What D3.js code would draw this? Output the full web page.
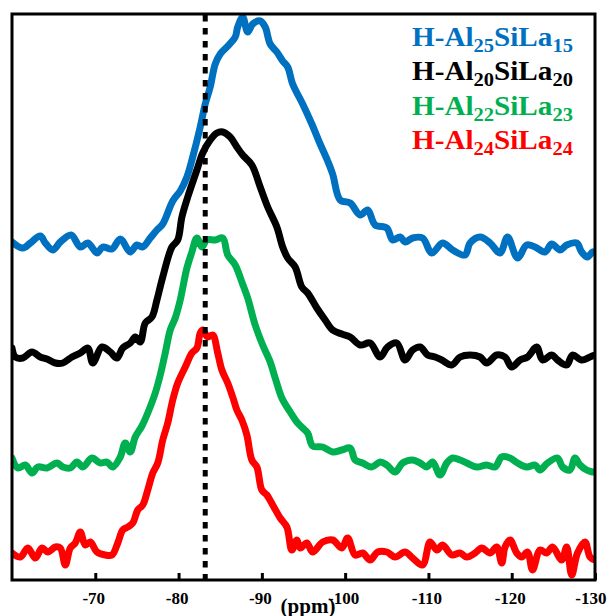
<!DOCTYPE html>
<html><head><meta charset="utf-8">
<script src="https://cdn.jsdelivr.net/npm/d3@7"></script>
<style>html,body{margin:0;padding:0;background:#fff;}svg{display:block;}</style>
</head><body>
<script>
// chemical shift (ppm), intensity (a.u., stacked)
const blue = [[-60.0,338],[-61.3,332],[-62.2,337],[-63.4,344],[-64.0,337],[-64.9,330],[-65.8,338],[-67.1,345],[-68.2,333],[-69.1,337],[-70.2,327],[-70.9,333],[-72.0,331],[-73.0,341],[-74.2,328],[-75.0,335],[-75.7,333],[-76.6,342],[-77.4,350],[-78.1,356],[-79.3,379],[-80.2,389],[-81.0,403],[-81.7,423],[-82.6,453],[-83.2,476],[-83.8,493],[-84.4,516],[-85.0,526],[-85.8,533],[-86.8,543],[-87.1,553],[-87.7,563],[-88.3,548],[-88.9,556],[-89.8,559],[-90.4,553],[-91.0,536],[-91.8,528],[-92.5,519],[-93.1,513],[-93.7,496],[-94.9,476],[-96.0,456],[-97.0,436],[-97.9,419],[-98.5,406],[-99.4,380],[-100.6,377],[-101.8,365],[-102.7,370],[-103.6,355],[-105.0,352],[-105.7,340],[-106.6,343],[-107.2,338],[-108.1,342],[-109.3,342],[-110.4,327],[-111.7,337],[-112.9,330],[-114.4,325],[-115.0,337],[-116.2,343],[-117.4,337],[-118.6,327],[-119.5,343],[-120.7,322],[-121.8,335],[-122.8,333],[-124.0,328],[-124.8,336],[-125.8,330],[-126.6,335],[-127.8,337],[-128.4,328],[-129.1,323],[-129.7,328],[-130.0,328]];
const black = [[-60.0,232],[-60.4,223],[-61.3,222],[-62.4,228],[-63.4,223],[-64.2,221],[-65.2,217],[-66.1,217],[-67.2,223],[-68.2,227],[-69.1,232],[-69.7,217],[-70.8,233],[-71.8,228],[-72.6,222],[-73.3,232],[-74.2,237],[-74.8,243],[-75.4,238],[-76.0,257],[-76.8,263],[-77.4,280],[-78.1,303],[-79.2,333],[-79.9,340],[-80.4,363],[-81.1,383],[-82.2,410],[-82.9,427],[-83.8,440],[-84.6,447],[-85.3,448],[-86.2,443],[-87.0,433],[-87.7,425],[-88.8,415],[-89.8,393],[-90.7,373],[-91.8,353],[-92.5,333],[-93.1,322],[-94.0,313],[-94.8,293],[-95.5,287],[-96.6,272],[-97.6,260],[-98.5,250],[-99.6,246],[-100.6,243],[-101.8,235],[-103.0,237],[-104.2,223],[-105.1,233],[-106.2,237],[-107.2,220],[-108.1,230],[-109.0,233],[-109.9,225],[-110.8,223],[-111.6,220],[-112.8,215],[-113.8,223],[-115.0,225],[-116.2,223],[-117.0,217],[-118.2,225],[-119.2,223],[-120.0,213],[-121.0,220],[-121.9,223],[-123.0,233],[-123.7,220],[-124.8,225],[-125.5,220],[-126.6,215],[-127.3,225],[-128.4,220],[-129.4,223],[-130.0,225]];
const green = [[-60.0,122],[-60.7,112],[-61.6,115],[-62.4,107],[-63.1,113],[-64.2,112],[-65.4,117],[-66.1,113],[-67.0,112],[-67.8,118],[-68.5,113],[-69.6,122],[-70.6,117],[-71.4,118],[-72.1,113],[-73.0,123],[-73.6,137],[-74.2,128],[-74.8,143],[-75.6,154],[-76.3,167],[-77.2,187],[-77.8,205],[-78.4,227],[-79.0,250],[-79.6,262],[-80.2,280],[-81.0,312],[-81.6,328],[-82.2,342],[-82.8,333],[-83.4,340],[-84.4,340],[-85.3,342],[-85.9,325],[-86.8,315],[-87.6,298],[-88.3,282],[-89.2,255],[-90.1,235],[-91.0,218],[-91.6,202],[-92.4,182],[-93.4,168],[-94.2,158],[-94.9,152],[-95.5,147],[-96.1,134],[-97.3,133],[-98.5,128],[-99.6,130],[-100.6,132],[-101.2,120],[-102.1,117],[-103.2,113],[-104.2,118],[-105.0,115],[-106.0,108],[-106.9,117],[-108.1,120],[-109.0,117],[-109.8,113],[-110.5,118],[-111.4,105],[-112.2,117],[-112.9,122],[-113.8,120],[-114.6,117],[-115.8,113],[-117.0,115],[-118.0,113],[-118.8,123],[-119.8,122],[-120.7,117],[-121.8,113],[-122.8,115],[-123.4,110],[-124.3,117],[-125.5,122],[-126.1,113],[-127.0,110],[-127.6,122],[-128.2,115],[-129.0,110],[-129.7,108]];
const red = [[-60.0,27],[-61.0,23],[-61.9,32],[-62.8,22],[-63.6,32],[-64.3,28],[-65.2,33],[-65.8,32],[-66.4,15],[-67.0,32],[-67.6,37],[-68.2,48],[-68.8,35],[-69.4,38],[-70.2,28],[-71.2,25],[-72.0,25],[-72.7,37],[-73.3,50],[-73.9,53],[-74.5,57],[-75.1,70],[-75.7,75],[-76.3,90],[-76.9,107],[-77.5,117],[-78.1,140],[-78.7,157],[-79.3,180],[-79.9,197],[-80.8,213],[-81.6,227],[-82.2,232],[-82.6,247],[-82.9,250],[-83.5,243],[-84.1,245],[-84.7,227],[-85.2,210],[-85.9,197],[-86.5,183],[-87.0,170],[-87.6,160],[-88.2,145],[-88.8,120],[-89.4,113],[-90.0,90],[-90.6,85],[-91.3,75],[-92.2,62],[-93.0,53],[-93.6,30],[-94.2,40],[-94.6,32],[-95.4,37],[-96.1,28],[-97.3,38],[-98.5,40],[-99.6,32],[-100.3,42],[-101.2,25],[-102.1,27],[-103.0,20],[-103.9,28],[-105.0,28],[-106.0,23],[-107.2,28],[-108.1,22],[-109.3,15],[-110.2,38],[-111.0,30],[-111.7,35],[-112.8,25],[-113.8,27],[-114.6,23],[-115.6,27],[-116.4,32],[-117.4,27],[-118.2,33],[-118.8,17],[-119.2,33],[-119.8,40],[-120.6,27],[-121.2,23],[-121.9,28],[-122.5,10],[-123.4,30],[-124.2,27],[-124.9,33],[-126.0,20],[-126.6,33],[-127.2,5],[-127.9,27],[-128.8,38],[-129.4,23],[-130.0,20]];
const seriesNames = [["H-Al","25","SiLa","15"],["H-Al","20","SiLa","20"],["H-Al","22","SiLa","23"],["H-Al","24","SiLa","24"]];
const seriesColors = ["#0070C0","#000000","#00B050","#FF0000"];
const tickValues = [-70,-80,-90,-100,-110,-120,-130];
const refLine = -83.2;

const W = 607, H = 616;
const mLeft = 12, mRight = 595, mTop = 14, mBottom = 580;
const svg = d3.select("body").append("svg").attr("width", W).attr("height", H);
const x = d3.scaleLinear().domain([-60, -130]).range([mLeft, mRight]);
const y = d3.scaleLinear().domain([0, 566]).range([mBottom, mTop]);

svg.append("clipPath").attr("id","clip").append("rect")
  .attr("x", mLeft).attr("y", mTop).attr("width", mRight-mLeft).attr("height", mBottom-mTop);

const line = d3.line().x(d => x(d[0])).y(d => y(d[1])).curve(d3.curveCatmullRom.alpha(0.5));
const g = svg.append("g").attr("clip-path","url(#clip)");
[blue, black, green, red].forEach((s, i) => {
  g.append("path").attr("d", line(s)).attr("fill","none")
    .attr("stroke", seriesColors[i]).attr("stroke-width", 7)
    .attr("stroke-linejoin","round").attr("stroke-linecap","round");
});

// dotted reference line
svg.append("line").attr("x1", x(refLine)).attr("x2", x(refLine))
  .attr("y1", mTop+1).attr("y2", mBottom)
  .attr("stroke","#000").attr("stroke-width",5).attr("stroke-dasharray","6.5,6.5");

// frame
svg.append("rect").attr("x", mLeft).attr("y", mTop).attr("width", mRight-mLeft).attr("height", mBottom-mTop)
  .attr("fill","none").attr("stroke","#000").attr("stroke-width",3);

// x axis
const axis = d3.axisBottom(x).tickValues(tickValues).tickSizeInner(-7).tickSizeOuter(0).tickPadding(16)
  .tickFormat(d => d);
const ax = svg.append("g").attr("transform", `translate(0,${mBottom})`).call(axis);
ax.select(".domain").remove();
ax.selectAll(".tick line").attr("stroke","#000").attr("stroke-width",3);
ax.selectAll(".tick text").attr("font-family","'Liberation Serif','Times New Roman',serif")
  .attr("font-weight","bold").attr("font-size",17).attr("fill","#000").attr("dy", null).attr("y", 24)
  .attr("x", -2);
ax.selectAll(".tick text").filter(d => d === -130).attr("text-anchor","end").attr("x", 11);

svg.append("text").attr("x", 308).attr("y", 613).attr("text-anchor","middle")
  .attr("font-family","'Liberation Serif','Times New Roman',serif").attr("font-weight","bold")
  .attr("font-size",21).text("(ppm)");

// legend
const leg = svg.append("g").attr("font-family","'Liberation Serif','Times New Roman',serif").attr("font-weight","bold");
const baselines = [46, 80, 115, 149];
seriesNames.forEach((n, i) => {
  const t = leg.append("text").attr("x", 0).attr("y", 0).attr("fill", seriesColors[i]).attr("font-size", 27)
    .attr("transform", `translate(412,${baselines[i]}) scale(1.08,1)`);
  t.append("tspan").text(n[0]);
  t.append("tspan").attr("font-size",19).attr("dy",6).text(n[1]);
  t.append("tspan").attr("dy",-6).text(n[2]);
  t.append("tspan").attr("font-size",19).attr("dy",6).text(n[3]);
});
</script>
</body></html>
